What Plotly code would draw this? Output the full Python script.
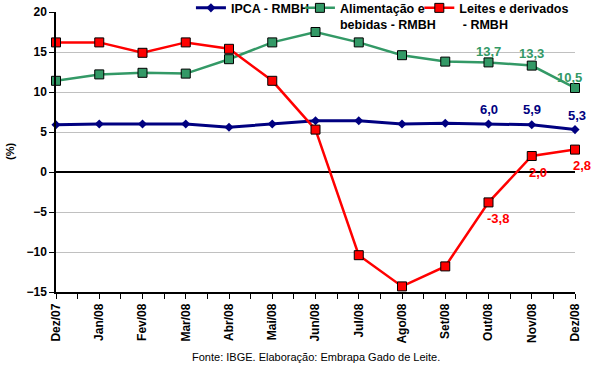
import plotly.graph_objects as go

categories = ["Dez/07", "Jan/08", "Fev/08", "Mar/08", "Abr/08", "Mai/08", "Jun/08",
              "Jul/08", "Ago/08", "Set/08", "Out/08", "Nov/08", "Dez/08"]
ipca = [5.9, 6.0, 6.0, 6.0, 5.6, 6.0, 6.4, 6.4, 6.0, 6.1, 6.0, 5.9, 5.3]
alimentacao = [11.4, 12.2, 12.4, 12.3, 14.1, 16.2, 17.5, 16.2, 14.6, 13.8, 13.7, 13.3, 10.5]
leite = [16.2, 16.2, 14.9, 16.2, 15.4, 11.4, 5.3, -10.4, -14.3, -11.8, -3.8, 2.0, 2.8]
y_ticks = [-15, -10, -5, 0, 5, 10, 15, 20]

x = list(range(len(categories)))
labelled = [10, 11, 12]

def fmt(v):
    return f"{v:.1f}".replace(".", ",")

font_fam = "Liberation Sans, Arial, sans-serif"

fig = go.Figure()
fig.add_trace(go.Scatter(
    x=x, y=ipca, name="IPCA - RMBH", mode="lines+markers", cliponaxis=False,
    line=dict(color="#000080", width=3),
    marker=dict(symbol="diamond", size=7, color="#000080"),
    legend="legend",
))
fig.add_trace(go.Scatter(
    x=x, y=alimentacao, name="Alimentação e<br>bebidas - RMBH", mode="lines+markers", cliponaxis=False,
    line=dict(color="#339966", width=2.5),
    marker=dict(symbol="square", size=9, color="#339966", line=dict(color="black", width=1)),
    legend="legend2",
))
fig.add_trace(go.Scatter(
    x=x, y=leite, name="Leites e derivados<br> - RMBH", mode="lines+markers", cliponaxis=False,
    line=dict(color="#FF0000", width=2.5),
    marker=dict(symbol="square", size=9, color="#FF0000", line=dict(color="black", width=1)),
    legend="legend3",
))

annotations = []
series_styles = [
    (ipca, "#000080", [(0, -15), (0, -15), (2, -14)]),
    (alimentacao, "#339966", [(0, -11), (0, -12), (-6, -11)]),
    (leite, "#FF0000", [(9, 16), (6, 16), (7, 16)]),
]
for vals, color, offs in series_styles:
    for idx, (dx, dy) in zip(labelled, offs):
        annotations.append(dict(
            x=x[idx], y=vals[idx], xref="x", yref="y", text=fmt(vals[idx]),
            xshift=dx, yshift=-dy, showarrow=False, xanchor="center", yanchor="middle",
            font=dict(family=font_fam, size=13, color=color, weight="bold"),
        ))

annotations.append(dict(
    text="Fonte: IBGE. Elaboração: Embrapa Gado de Leite.",
    xref="paper", yref="paper", x=0.5, y=0, yshift=-65, xanchor="center", yanchor="middle",
    showarrow=False, font=dict(family=font_fam, size=11, color="black"),
))
annotations.append(dict(
    text="(%)", textangle=-90,
    xref="paper", yref="paper", x=0, y=0.5, xshift=-46, xanchor="center", yanchor="middle",
    showarrow=False, font=dict(family=font_fam, size=11, color="black", weight="bold"),
))

leg_common = dict(
    orientation="v", yanchor="top", xanchor="left", yref="paper",
    bgcolor="rgba(0,0,0,0)", itemwidth=30, valign="top",
    font=dict(family=font_fam, size=12.5, color="black", weight="bold"),
)

fig.update_layout(
    width=593, height=367,
    margin=dict(l=56, r=18, t=12, b=75, autoexpand=False),
    plot_bgcolor="white", paper_bgcolor="white",
    font=dict(family=font_fam, size=12, color="black"),
    showlegend=True,
    legend=dict(x=0.26, y=1.067, **leg_common),
    legend2=dict(x=0.47, y=1.067, **leg_common),
    legend3=dict(x=0.70, y=1.067, **leg_common),
    xaxis=dict(
        range=[0, 12], tickmode="array", tickvals=x, ticktext=categories,
        tickangle=-90, ticks="outside", ticklen=5, tickcolor="black", automargin=False,
        minor=dict(ticks="outside", ticklen=5, tickcolor="black", dtick=0.5, tick0=0),
        showline=True, linecolor="black", linewidth=1.5,
        showgrid=False, zeroline=False,
        tickfont=dict(family=font_fam, size=12, color="black", weight="bold"),
    ),
    yaxis=dict(
        range=[-15, 20], tickmode="array", tickvals=y_ticks, automargin=False,
        ticks="outside", ticklen=5, tickcolor="black",
        showline=True, linecolor="black", linewidth=1.5,
        showgrid=True, gridcolor="#C0C0C0", gridwidth=1,
        zeroline=True, zerolinecolor="black", zerolinewidth=1.5,
        tickfont=dict(family=font_fam, size=12, color="black", weight="bold"),
    ),
    annotations=annotations,
)

fig.write_html("out.html", config={"displayModeBar": False},
               post_script="document.body.style.margin='0';document.body.style.overflow='hidden';")
